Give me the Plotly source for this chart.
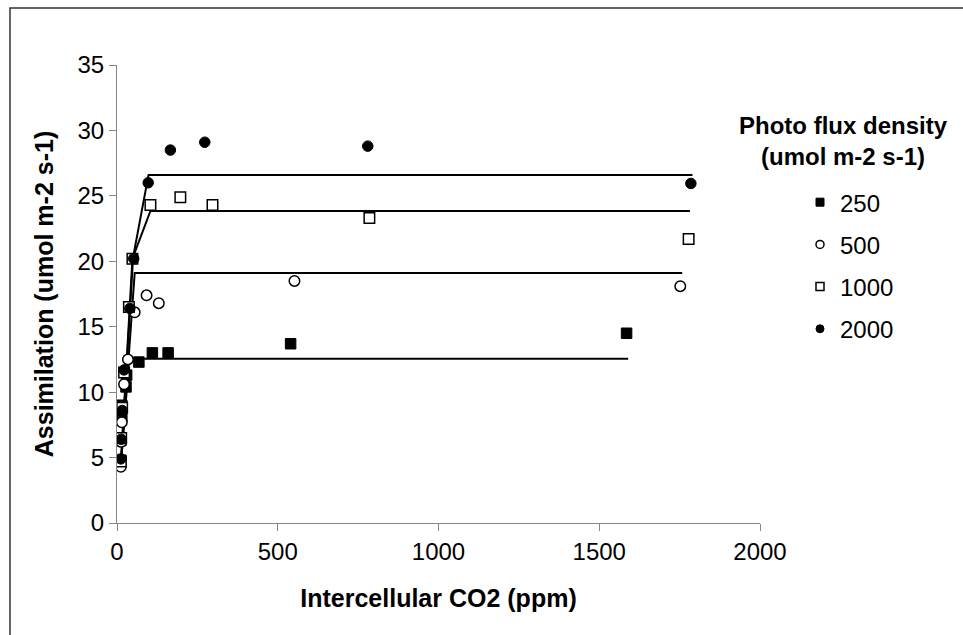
import plotly.graph_objects as go

# ---- data ----
x_250 = [12, 12, 15, 15, 28, 30, 68, 110, 159, 540, 1585]
y_250 = [4.8, 6.3, 8.1, 9.0, 10.4, 11.3, 12.3, 13.0, 13.0, 13.7, 14.5]

x_500 = [12, 13, 15, 22, 34, 55, 92, 130, 552, 1752]
y_500 = [4.3, 6.2, 7.7, 10.6, 12.5, 16.1, 17.4, 16.8, 18.5, 18.1]

x_1000 = [12, 13, 16, 22, 37, 48, 104, 197, 297, 785, 1778]
y_1000 = [4.7, 6.5, 8.8, 11.5, 16.5, 20.2, 24.3, 24.9, 24.3, 23.3, 21.7]

x_2000 = [12, 13, 16, 22, 40, 52, 97, 166, 273, 780, 1785]
y_2000 = [4.9, 6.4, 8.6, 11.7, 16.4, 20.2, 26.0, 28.5, 29.1, 28.8, 25.95]

# fitted curves (rise then plateau)
fit_x_250 = [12, 38, 1590]
fit_y_250 = [4.5, 12.55, 12.55]
fit_x_500 = [12, 55, 1758]
fit_y_500 = [4.3, 19.1, 19.1]
fit_x_1000 = [12, 48, 104, 1782]
fit_y_1000 = [4.5, 20.2, 23.85, 23.85]
fit_x_2000 = [12, 50, 98, 1790]
fit_y_2000 = [4.5, 20.3, 26.6, 26.6]

series_names = ["250", "500", "1000", "2000"]
legend_title = "<b>Photo flux density<br>(umol m-2 s-1)</b>"
x_ticks = [0, 500, 1000, 1500, 2000]
y_ticks = [0, 5, 10, 15, 20, 25, 30, 35]

FONT = "Liberation Sans, Arial, sans-serif"
AX = "#868686"

fig = go.Figure()

fits = [(fit_x_250, fit_y_250), (fit_x_500, fit_y_500),
        (fit_x_1000, fit_y_1000), (fit_x_2000, fit_y_2000)]
for fx, fy in fits:
    fig.add_trace(go.Scatter(x=fx, y=fy, mode="lines",
                             line=dict(color="black", width=2),
                             showlegend=False, hoverinfo="skip"))

styles = [
    ("square", "black", 1.0),
    ("circle", "white", 1.5),
    ("square", "white", 1.5),
    ("circle", "black", 1.0),
]
data = [(x_250, y_250), (x_500, y_500), (x_1000, y_1000), (x_2000, y_2000)]
for (xs, ys), (sym, fill, lw), nm in zip(data, styles, series_names):
    fig.add_trace(go.Scatter(x=xs, y=ys, mode="markers", name=nm,
                             marker=dict(symbol=sym, size=10.5, color=fill,
                                         line=dict(color="black", width=lw)),
                             showlegend=False))
# legend entries (smaller symbols, as in the original)
for (sym, fill, lw), nm in zip(styles, series_names):
    fig.add_trace(go.Scatter(x=[None], y=[None], mode="markers", name=nm,
                             marker=dict(symbol=sym, size=8, color=fill,
                                         line=dict(color="black", width=lw)),
                             legendgroup=nm, showlegend=True))

fig.update_layout(
    width=963, height=635,
    margin=dict(l=117, r=203, t=65, b=112),
    paper_bgcolor="white", plot_bgcolor="white",
    font=dict(family=FONT, color="black", size=24),
    showlegend=True,
    legend=dict(
        x=(800 - 117) / 643, y=(522.7 - 180) / 457.7,
        xanchor="left", yanchor="top",
        font=dict(size=24, family=FONT),
        traceorder="grouped", tracegroupgap=8,
        itemsizing="trace", bgcolor="rgba(0,0,0,0)",
    ),
    annotations=[dict(text=legend_title, xref="paper", yref="paper",
                      x=(843 - 117) / 643, y=(522.7 - 141) / 457.7,
                      xanchor="center", yanchor="middle", align="center",
                      showarrow=False, font=dict(size=24, family=FONT))],
    xaxis=dict(range=[0, 2000], tickvals=x_ticks, showgrid=False, zeroline=False,
               showline=True, linecolor=AX, linewidth=1,
               ticks="outside", ticklen=7, tickcolor=AX,
               tickfont=dict(size=24, family=FONT),
               title=dict(text="<b>Intercellular CO2 (ppm)</b>",
                          font=dict(size=25, family=FONT), standoff=25)),
    yaxis=dict(range=[0, 35], tickvals=y_ticks, showgrid=False, zeroline=False,
               showline=True, linecolor=AX, linewidth=1,
               ticks="outside", ticklen=7, tickcolor=AX,
               tickfont=dict(size=24, family=FONT),
               title=dict(text="<b>Assimilation (umol m-2 s-1)</b>",
                          font=dict(size=25, family=FONT), standoff=16)),
    shapes=[dict(type="rect", xref="paper", yref="paper",
                 x0=(10 - 117) / 643, x1=(975 - 117) / 643,
                 y0=(522 - 645) / 457, y1=(522 - 8) / 457,
                 line=dict(color="#333333", width=1.5), layer="below")],
)

fig.write_html("out.html")
